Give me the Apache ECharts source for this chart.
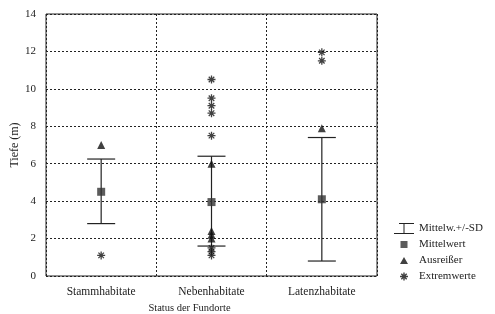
<!DOCTYPE html>
<html>
<head>
<meta charset="utf-8">
<title>Tiefe der Fundorte</title>
<script src="https://cdn.jsdelivr.net/npm/echarts@6/dist/echarts.min.js"></script>
</head>
<body style="margin:0">
<div id="main" style="width:495px;height:314px;"></div>
<script>
// Kategorien und Werte
var categories = ['Stammhabitate', 'Nebenhabitate', 'Latenzhabitate'];
var sdLow = [2.8, 1.6, 0.8];
var sdHigh = [6.25, 6.4, 7.4];
var mittelwert = [4.5, 3.95, 4.1];
// Ausreißer: [kategorie, wert]
var ausreisser = [[0, 7.0], [1, 6.0], [1, 2.4], [1, 2.2], [1, 2.0], [2, 7.9]];
var extremwerte = [[0, 1.1], [1, 10.5], [1, 9.5], [1, 9.1], [1, 8.7], [1, 7.5],
                   [1, 1.5], [1, 1.3], [1, 1.1], [2, 11.95], [2, 11.5]];

var FONT = 'Liberation Serif';
var asterisk = 'path://M-0.8,-5 L0.8,-5 L0.8,5 L-0.8,5 Z M-5,-0.8 L5,-0.8 L5,0.8 L-5,0.8 Z ' +
  'M-4,-2.9 L-2.9,-4 L4,2.9 L2.9,4 Z M2.9,-4 L4,-2.9 L-2.9,4 L-4,2.9 Z';
// Legendensymbole im Rahmen 20x11 (unsichtbare Eckpunkte halten das Seitenverhältnis)
var corners = 'M0,0 L0.01,0 L0.01,0.01 Z M20,11 L19.99,11 L19.99,10.99 Z ';
var sdIcon = 'path://' + corners + 'M0,10 L20,10 L20,11 L0,11 Z M9.5,0.5 L10.5,0.5 L10.5,10 L9.5,10 Z M5,0 L20,0 L20,1 L5,1 Z';
var rectIcon = 'path://' + corners + 'M6.5,2 L13.5,2 L13.5,9 L6.5,9 Z';
var triIcon = 'path://' + corners + 'M10,2 L14,9 L6,9 Z';
var astIcon = 'path://' + corners + 'M9.3,1.5 L10.7,1.5 L10.7,9.5 L9.3,9.5 Z M6,4.8 L14,4.8 L14,6.2 L6,6.2 Z ' +
  'M6.8,3.3 L7.8,2.3 L13.2,7.7 L12.2,8.7 Z M12.2,2.3 L13.2,3.3 L7.8,8.7 L6.8,7.7 Z';

var sdData = categories.map(function (c, i) { return [i, sdLow[i], sdHigh[i]]; });

var myChart = echarts.init(document.getElementById('main'));
var option = {
  animation: false,
  textStyle: { fontFamily: FONT },
  grid: { left: 46, right: 118, top: 14, bottom: 38, show: true, borderColor: '#222', borderWidth: 1,
          outerBoundsMode: 'none', containLabel: false },
  legend: {
    orient: 'vertical', left: 389, top: 218, itemGap: 5, itemWidth: 20, itemHeight: 11,
    textStyle: { fontFamily: FONT, fontSize: 11, color: '#222' },
    data: [
      { name: 'Mittelw.+/-SD', icon: sdIcon },
      { name: 'Mittelwert', icon: rectIcon },
      { name: 'Ausreißer', icon: triIcon },
      { name: 'Extremwerte', icon: astIcon }
    ]
  },
  xAxis: {
    type: 'category', data: categories,
    name: 'Status der Fundorte', nameLocation: 'middle', nameGap: 27,
    nameTextStyle: { fontFamily: FONT, fontSize: 10.5, color: '#222', padding: [0, 44, 0, 0] },
    axisLine: { show: false }, axisTick: { show: false },
    axisLabel: { fontFamily: FONT, fontSize: 11.5, color: '#222', margin: 10 },
    splitLine: { show: true, lineStyle: { color: '#222', type: [2, 2], width: 1 } }
  },
  yAxis: {
    type: 'value', min: 0, max: 14, interval: 2,
    name: 'Tiefe (m)', nameLocation: 'middle', nameGap: 25, nameMoveOverlap: false,
    nameTextStyle: { fontFamily: FONT, fontSize: 12, color: '#222' },
    axisLine: { show: false }, axisTick: { show: false },
    axisLabel: { fontFamily: FONT, fontSize: 11, color: '#222', margin: 10 },
    splitLine: { lineStyle: { color: '#222', type: [2, 2], width: 1 } }
  },
  series: [
    {
      name: 'Mittelw.+/-SD', type: 'custom', data: sdData,
      itemStyle: { color: '#222' },
      renderItem: function (params, api) {
        var x = api.value(0);
        var lo = api.coord([x, api.value(1)]);
        var hi = api.coord([x, api.value(2)]);
        var hw = 14;
        var st = { stroke: '#222', lineWidth: 1.2 };
        return {
          type: 'group', children: [
            { type: 'line', shape: { x1: lo[0], y1: lo[1], x2: hi[0], y2: hi[1] }, style: st },
            { type: 'line', shape: { x1: lo[0] - hw, y1: lo[1], x2: lo[0] + hw, y2: lo[1] }, style: st },
            { type: 'line', shape: { x1: hi[0] - hw, y1: hi[1], x2: hi[0] + hw, y2: hi[1] }, style: st }
          ]
        };
      },
      z: 2
    },
    {
      name: 'Mittelwert', type: 'scatter', symbol: 'rect', symbolSize: 8,
      itemStyle: { color: '#333' }, z: 3,
      data: mittelwert.map(function (v, i) { return [i, v]; })
    },
    {
      name: 'Ausreißer', type: 'scatter', symbol: 'triangle', symbolSize: 8,
      itemStyle: { color: '#111' }, z: 3,
      data: ausreisser
    },
    {
      name: 'Extremwerte', type: 'scatter', symbol: asterisk, symbolSize: 8,
      itemStyle: { color: '#111' }, z: 3,
      data: extremwerte
    }
  ]
};
myChart.setOption(option);
</script>
</body>
</html>
